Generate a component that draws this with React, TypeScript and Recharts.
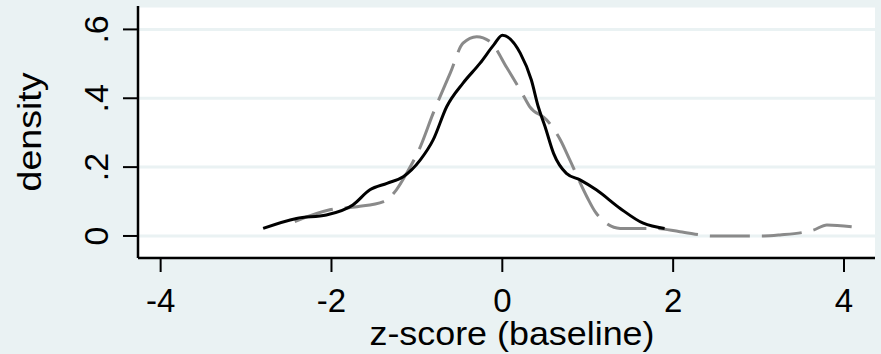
import React from 'react';
import { LineChart, Line, XAxis, YAxis, CartesianGrid } from 'recharts';

const xTicks = [-4, -2, 0, 2, 4];
const xTickLabels = ['-4', '-2', '0', '2', '4'];
const yTicks = [0, 0.2, 0.4, 0.6];
const yTickLabels = ['0', '.2', '.4', '.6'];

const xTitle = 'z-score (baseline)';
const yTitle = 'density';

// solid black density curve
const solidX = [-2.8, -2.41, -2.06, -1.75, -1.55, -1.35, -1.16, -0.96, -0.81, -0.65, -0.46, -0.26, -0.1, 0.0, 0.21, 0.34, 0.42, 0.5, 0.6, 0.75, 0.91, 1.1, 1.38, 1.65, 1.9];
const solidY = [0.022, 0.051, 0.061, 0.09, 0.134, 0.153, 0.172, 0.221, 0.279, 0.376, 0.444, 0.502, 0.555, 0.583, 0.531, 0.453, 0.376, 0.318, 0.24, 0.182, 0.163, 0.134, 0.08, 0.037, 0.022];

// dashed gray density curve
const dashedX = [-2.43, -2.02, -1.7, -1.39, -1.24, -1.12, -0.96, -0.81, -0.61, -0.46, -0.3, -0.14, 0.05, 0.23, 0.32, 0.52, 0.68, 0.79, 0.99, 1.1, 1.38, 1.77, 2.08, 2.47, 3.06, 3.25, 3.64, 3.8, 4.09];
const dashedY = [0.042, 0.076, 0.085, 0.1, 0.134, 0.182, 0.259, 0.356, 0.473, 0.56, 0.579, 0.564, 0.49, 0.415, 0.376, 0.337, 0.279, 0.221, 0.114, 0.066, 0.022, 0.022, 0.0125, 0.0, 0.0, 0.003, 0.017, 0.032, 0.027];

const solidData = solidX.map((x, i) => ({ x, y: solidY[i] }));
const dashedData = dashedX.map((x, i) => ({ x, y: dashedY[i] }));

const FONT = 'Liberation Sans, Arial, Helvetica, sans-serif';

const XTick = (props: any) => {
  const { x, payload } = props;
  const idx = xTicks.indexOf(payload.value);
  return (
    <text x={x} y={312} textAnchor="middle" fontSize={33} fontFamily={FONT} fill="#000">
      {idx >= 0 ? xTickLabels[idx] : payload.value}
    </text>
  );
};

const YTick = (props: any) => {
  const { y, payload } = props;
  const idx = yTicks.indexOf(payload.value);
  return (
    <text
      x={108}
      y={y}
      transform={`rotate(-90, 108, ${y})`}
      textAnchor="middle"
      fontSize={34}
      fontFamily={FONT}
      fill="#000"
    >
      {idx >= 0 ? yTickLabels[idx] : payload.value}
    </text>
  );
};

export default function App() {
  return (
    <div style={{ position: 'fixed', left: 0, top: 0, width: 881, height: 354, background: '#EAF2F3' }}>
      <LineChart width={881} height={354} data={solidData} margin={{ top: 6, right: 6, left: 0, bottom: 0 }}>
        <CartesianGrid vertical={false} stroke="#EAF2F3" strokeWidth={3} fill="#ffffff" fillOpacity={1} />
        <XAxis
          type="number"
          dataKey="x"
          domain={[-4.265, 4.363]}
          ticks={xTicks}
          interval={0}
          allowDataOverflow
          height={96}
          tickSize={14}
          tickLine={{ stroke: '#000', strokeWidth: 2 }}
          axisLine={{ stroke: '#000', strokeWidth: 2.5 }}
          tick={<XTick />}
        />
        <YAxis
          type="number"
          dataKey="y"
          domain={[-0.064, 0.668]}
          ticks={yTicks}
          interval={0}
          allowDataOverflow
          width={138}
          tickSize={15}
          tickLine={{ stroke: '#000', strokeWidth: 2 }}
          axisLine={{ stroke: '#000', strokeWidth: 2.5 }}
          tick={<YTick />}
        />
        <Line
          data={dashedData}
          dataKey="y"
          type="monotone"
          stroke="#8a8a8a"
          strokeWidth={3}
          strokeDasharray="40 12"
          dot={false}
          activeDot={false}
          isAnimationActive={false}
        />
        <Line
          data={solidData}
          dataKey="y"
          type="monotone"
          stroke="#000"
          strokeWidth={3}
          dot={false}
          activeDot={false}
          isAnimationActive={false}
        />
      </LineChart>
      <svg
        width={881}
        height={354}
        style={{ position: 'absolute', left: 0, top: 0, pointerEvents: 'none' }}
      >
        <text
          x={512}
          y={345}
          textAnchor="middle"
          fontSize={33}
          fontFamily={FONT}
          fill="#000"
          textLength={285}
          lengthAdjust="spacingAndGlyphs"
        >
          {xTitle}
        </text>
        <text
          x={41}
          y={132}
          transform="rotate(-90, 41, 132)"
          textAnchor="middle"
          fontSize={33}
          fontFamily={FONT}
          fill="#000"
          textLength={119}
          lengthAdjust="spacingAndGlyphs"
        >
          {yTitle}
        </text>
      </svg>
    </div>
  );
}
